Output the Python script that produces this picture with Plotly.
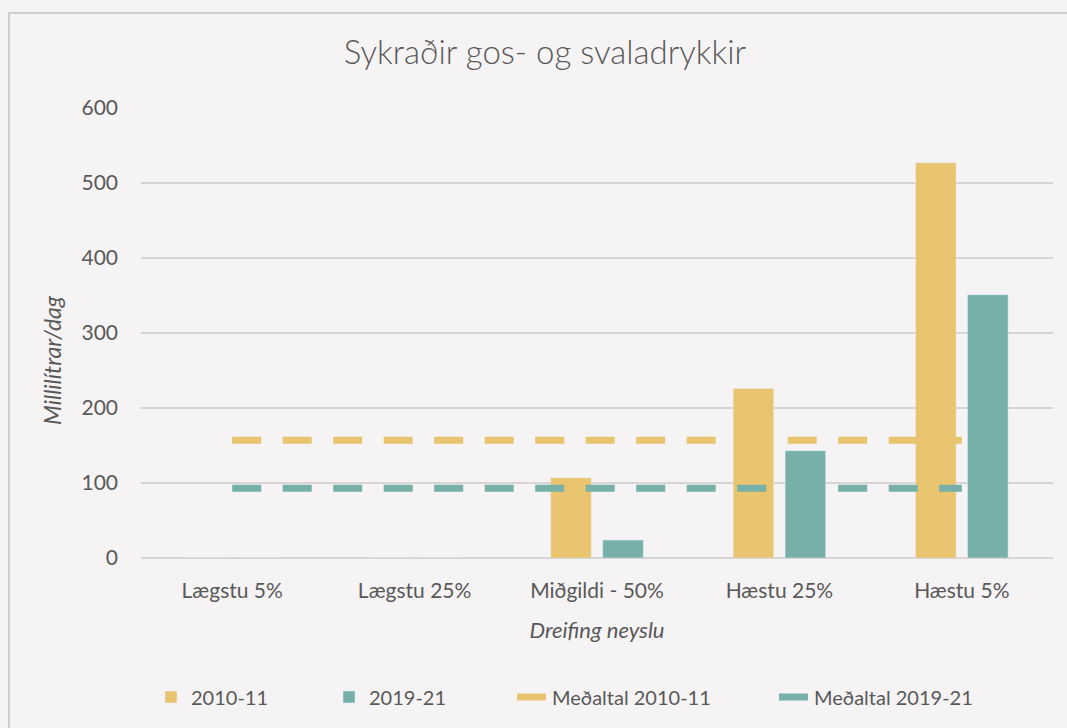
import plotly.graph_objects as go

categories = ["Lægstu 5%", "Lægstu 25%", "Miðgildi - 50%", "Hæstu 25%", "Hæstu 5%"]
vals_2010 = [0, 0, 107, 226, 527]
vals_2019 = [0, 0, 24, 143, 351]
mean_2010 = [157, 157, 157, 157, 157]
mean_2019 = [93, 93, 93, 93, 93]

YELLOW = "#E8C46E"
TEAL = "#76B0A8"
TEXT = "#595959"
BG = "#F5F3F3"
FONT = "Lato"

fig = go.Figure()
fig.add_trace(go.Bar(x=categories, y=vals_2010, name="2010-11", marker_color=YELLOW, legendwidth=133))
fig.add_trace(go.Bar(x=categories, y=vals_2019, name="2019-21", marker_color=TEAL, legendwidth=138))
fig.add_trace(go.Scatter(x=categories, y=mean_2010, name="Meðaltal 2010-11", mode="lines",
                         line=dict(color=YELLOW, width=7, dash="29px,21.5px"), legendwidth=217))
fig.add_trace(go.Scatter(x=categories, y=mean_2019, name="Meðaltal 2019-21", mode="lines",
                         line=dict(color=TEAL, width=7, dash="29px,21.5px")))

L, R, T, B = 141, 14, 108, 170
W, H = 1067, 728
pw, ph = W - L - R, H - T - B

def px(x):
    return (x - L) / pw

def py(y):
    return (H - B - y) / ph

fig.update_layout(
    width=W, height=H,
    margin=dict(l=L, r=R, t=T, b=B, autoexpand=False),
    paper_bgcolor=BG, plot_bgcolor=BG,
    font=dict(family=FONT, color=TEXT, size=21, weight=400),
    title=dict(text="Sykraðir gos- og svaladrykkir", x=545 / W, xanchor="center",
               y=1 - 52 / H, yanchor="middle", xref="container", yref="container",
               font=dict(size=33, color=TEXT, family=FONT, weight=300)),
    barmode="group", bargap=0.43, bargroupgap=0.22,
    showlegend=True,
    legend=dict(orientation="h", x=px(151), xanchor="left", y=py(697), yanchor="middle",
                font=dict(size=20, color=TEXT), bgcolor="rgba(0,0,0,0)", traceorder="normal"),
    xaxis=dict(showgrid=False, showline=False, zeroline=False, ticks="",
               ticklabelstandoff=18,
               title=dict(text="<i>Dreifing neyslu</i>", standoff=21, font=dict(size=22, color=TEXT))),
    yaxis=dict(range=[0, 600], tickvals=[0, 100, 200, 300, 400, 500, 600], showgrid=True,
               gridcolor="#D6D4D4", gridwidth=2, zeroline=True, zerolinecolor="#D6D4D4",
               zerolinewidth=2, showline=False, ticks="", ticklabelstandoff=22),
    annotations=[dict(text="<i>Millilítrar/dag</i>", xref="paper", yref="paper", x=px(52), y=py(360),
                      xanchor="center", yanchor="middle", textangle=-90, showarrow=False,
                      font=dict(size=23, color=TEXT, family=FONT))],
    shapes=[dict(type="rect", xref="paper", yref="paper", x0=px(9), x1=px(1100), y0=py(800), y1=py(13),
                 line=dict(color="#D0CFCF", width=2), fillcolor="rgba(0,0,0,0)", layer="below")],
)

fig.write_html("out.html", config={"displayModeBar": False},
               post_script="document.body.style.margin='0px';document.body.style.overflow='hidden';")
